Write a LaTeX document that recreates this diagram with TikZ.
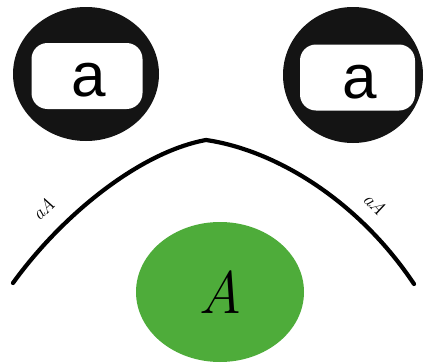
\documentclass[tikz,border=0pt]{standalone}
\usepackage{fontspec}
\setsansfont{Liberation Sans}
\usetikzlibrary{shapes.geometric}
\definecolor{leafgreen}{RGB}{78,172,58}

\begin{document}
\begin{tikzpicture}[x=1pt,y=-1pt,
                    ring/.style={ellipse,fill=black!92,inner sep=0pt,
                                 minimum width=146pt,minimum height=134pt},
                    window/.style={fill=white,rounded corners=16pt,inner sep=0pt,
                                   minimum width=111pt,minimum height=66pt,
                                   font=\sffamily\fontsize{62}{62}\selectfont,
                                   text height=45pt,text depth=4pt},
                    blob/.style={ellipse,fill=leafgreen,inner sep=0pt,
                                 minimum width=168pt,minimum height=140pt,
                                 font=\fontsize{60}{60}\selectfont\itshape},
                    tag/.style={inner sep=0pt,font=\fontsize{19}{19}\selectfont\itshape}]
  \useasboundingbox (0,0) rectangle (424,364);

  \node[ring] (leftdisc) at (86,74) {};
  \node[window] (leftwin) at (87,76) {\hspace{4pt}a};
  \node[ring,minimum width=140pt,minimum height=136pt] (rightdisc) at (353,75) {};
  \node[window,minimum width=115pt] (rightwin) at (357.5,77.5) {\hspace{4pt}a};

  \node[blob] (cell) at (220,292) {A};

  \coordinate (bowleft) at (13,283);
  \coordinate (bowtop) at (206,140);
  \coordinate (bowright) at (414,284);
  \draw[line width=4.2pt,line cap=round,line join=round]
    (bowleft) .. controls (62,215) and (140,152) .. (bowtop)
              .. controls (275,150) and (358,200) .. (bowright);

  \node[tag,rotate=44] (lefttag) at (43,209) {aA};
  \node[tag,rotate=-47] (righttag) at (375,204) {aA};
\end{tikzpicture}
\end{document}
